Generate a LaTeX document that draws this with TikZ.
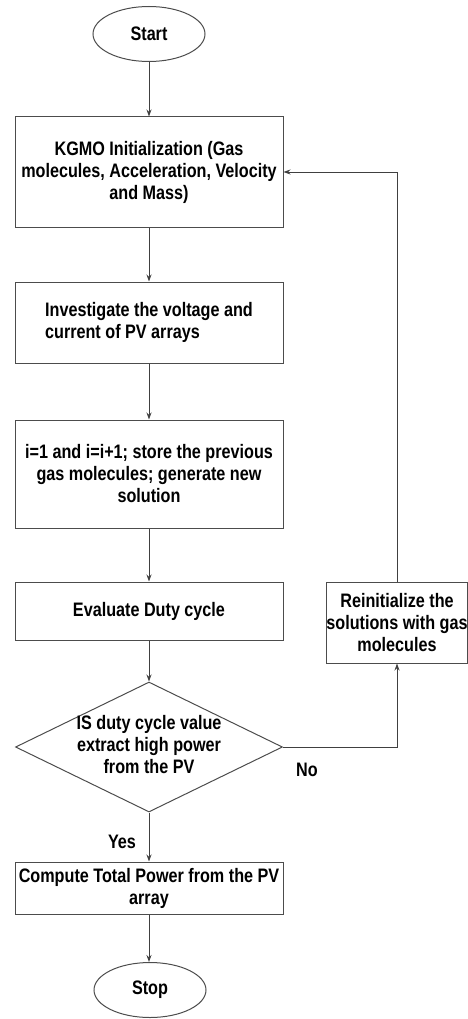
\documentclass[tikz,border=0pt]{standalone}
\usepackage{fontspec}
\setmainfont{Liberation Sans}[FakeStretch=0.83]
\usetikzlibrary{shapes.geometric,arrows.meta}
\begin{document}
\begin{tikzpicture}[x=1pt,y=-1pt,
    font=\fontsize{19.5}{22}\selectfont\bfseries,
    box/.style={draw=black!70, line width=1pt, rectangle, minimum width=268pt, inner sep=0pt, align=center},
    term/.style={draw=black!70, line width=1pt, ellipse, minimum width=112pt, minimum height=55pt, inner sep=0pt},
    flow/.style={draw=black!75, line width=0.9pt, -{Stealth[length=7pt,width=5pt]}}]
    \useasboundingbox (0,0) rectangle (467,1019);

    % Terminals and process boxes.
    \node [term] (St) at (149,34) {Start};
    \node [box, minimum height=110pt] (K) at (149,172) {KGMO Initialization (Gas\\molecules, Acceleration, Velocity\\and Mass)};
    \node [box, minimum height=81pt, align=left] (V) at (149,322.5) {Investigate the voltage and\\current of PV arrays};
    \node [box, minimum height=108pt] (G) at (149,474) {i=1 and i=i+1; store the previous\\gas molecules; generate new\\solution};
    \node [box, minimum height=58pt] (D) at (149,611) {Evaluate Duty cycle};
    \node [draw=black!70, line width=1pt, diamond, minimum width=267pt, minimum height=130pt, inner sep=0pt] (Q) at (149,747) {};
    \node [align=center, inner sep=0pt] (Qt) at (149,745) {IS duty cycle value\\extract high power\\from the PV};
    \node [box, minimum width=140pt, minimum height=81pt] (R) at (397,622.5) {Reinitialize the\\solutions with gas\\molecules};
    \node [box, minimum height=52pt] (P) at (149,888) {Compute Total Power from the PV\\array};
    \node [term] (Sp) at (150,990) {Stop};

    % Main flow.
    \draw [flow] (St) -- (K);
    \draw [flow] (K) -- (V);
    \draw [flow] (V) -- (G);
    \draw [flow] (G) -- (D);
    \draw [flow] (D) -- (Q);
    \draw [flow] (Q) -- (P);
    \draw [flow] (P.south) -- (P.south |- Sp.north);

    % Loop back on No.
    \draw [flow] (Q.east) -| (R.south);
    \draw [flow] (R.north) |- (K.east);

    % Branch labels.
    \node (no) at (307,770) {No};
    \node (yes) at (122,842) {Yes};

\end{tikzpicture}
\end{document}
